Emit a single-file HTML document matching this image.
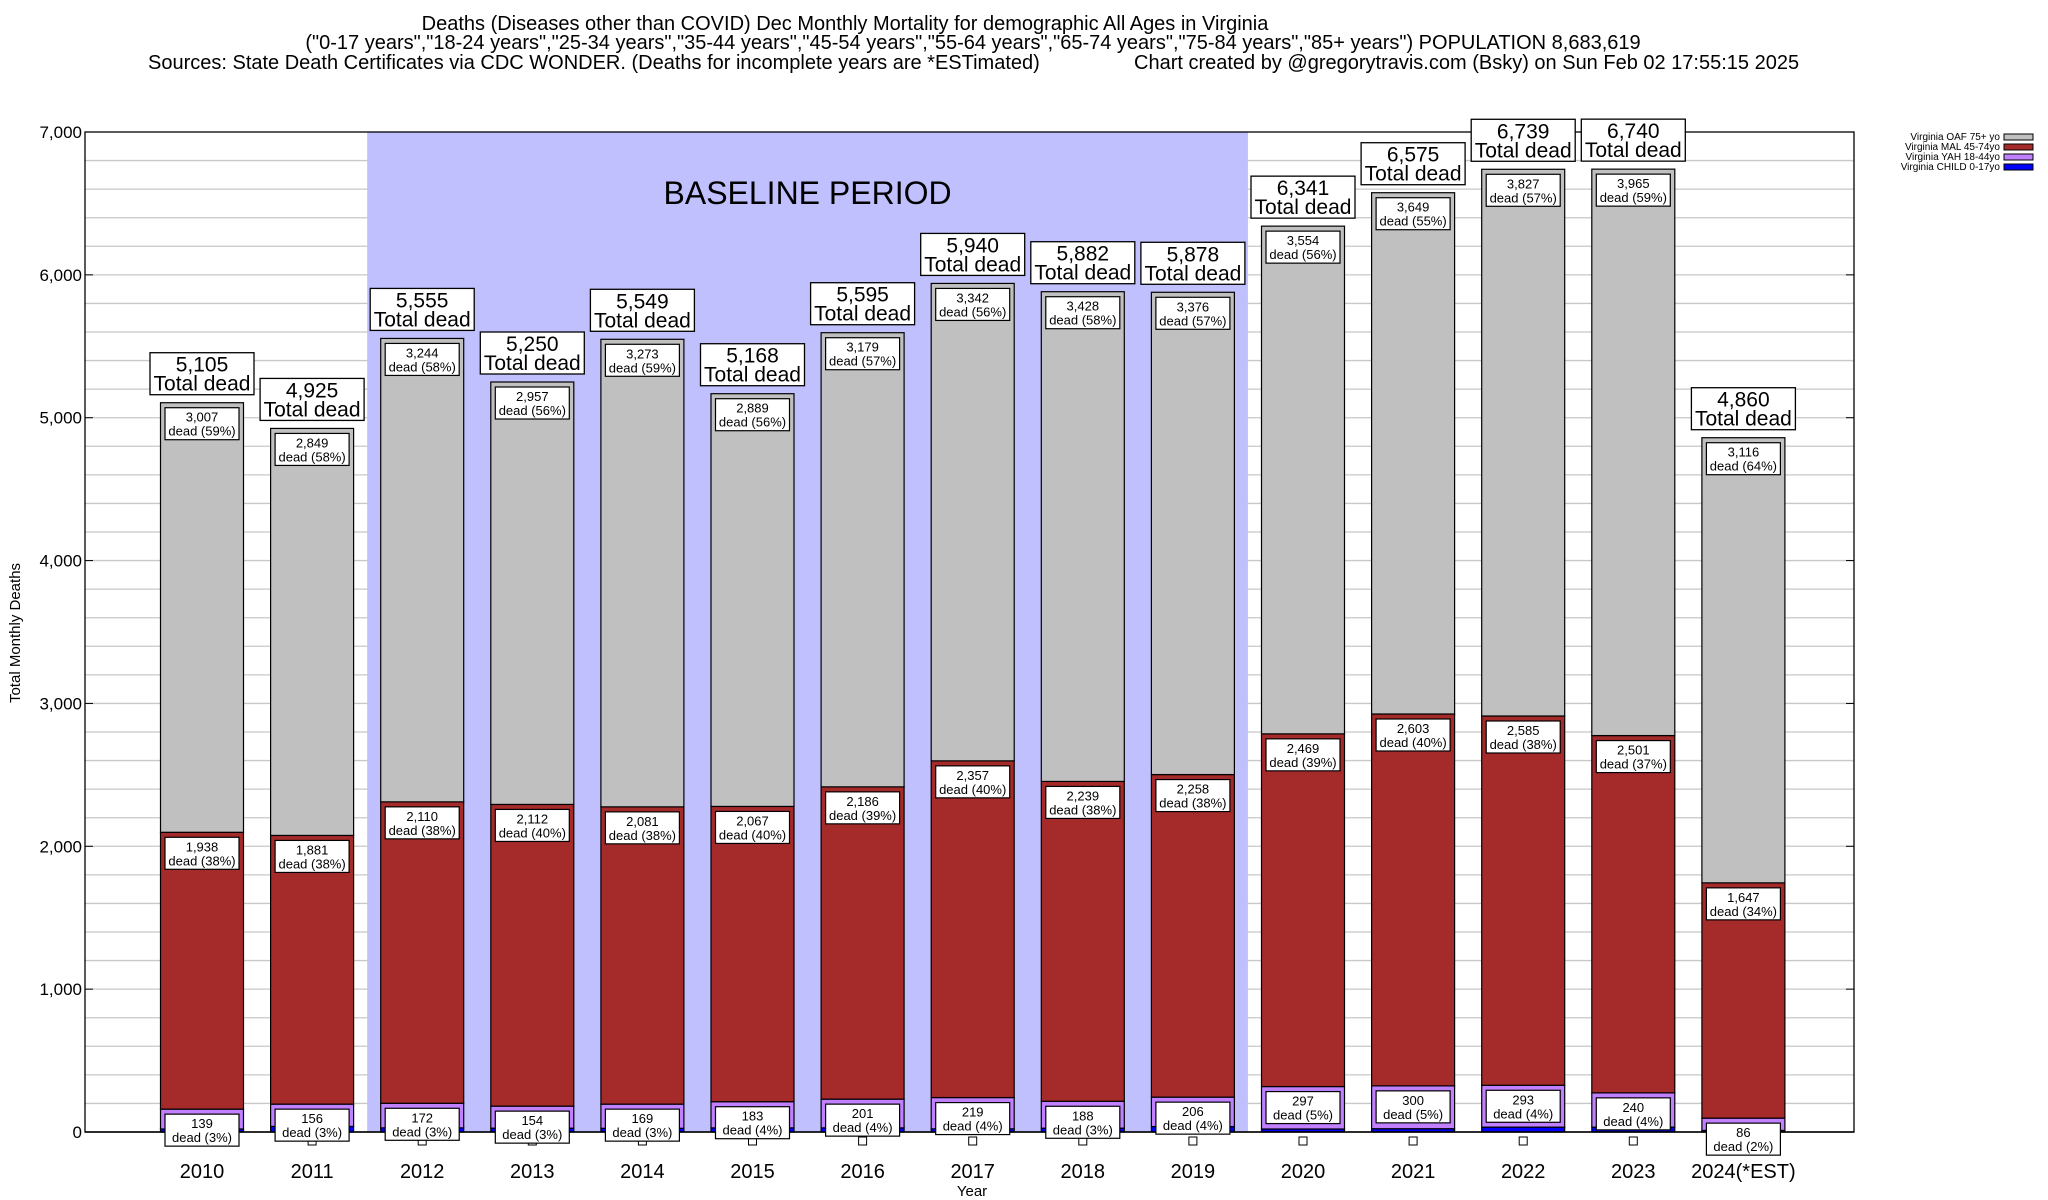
<!DOCTYPE html>
<html><head><meta charset="utf-8"><style>
body{margin:0;background:#fff;}
svg{display:block;font-family:"Liberation Sans",Arial,sans-serif;}
</style></head><body>
<svg id="chart" width="2048" height="1200" viewBox="0 0 2048 1200">
<g font-size="20" fill="#000">
<text x="845" y="30" text-anchor="middle">Deaths (Diseases other than COVID) Dec Monthly Mortality for demographic All Ages in Virginia</text>
<text x="973" y="49" text-anchor="middle">("0-17 years","18-24 years","25-34 years","35-44 years","45-54 years","55-64 years","65-74 years","75-84 years","85+ years") POPULATION 8,683,619</text>
<text x="148" y="69">Sources: State Death Certificates via CDC WONDER. (Deaths for incomplete years are *ESTimated)</text>
<text x="1134" y="69">Chart created by @gregorytravis.com (Bsky) on Sun Feb 02 17:55:15 2025</text>
</g>
<g id="grid"></g>
<g id="baseline"></g>
<g id="bars"></g>
<g id="axes"></g>
<g id="labels"></g>
<g font-size="10">
<text x="2000" y="140" text-anchor="end">Virginia OAF 75+ yo</text>
<rect x="2004" y="134" width="29" height="6" fill="#c0c0c0" stroke="#000"/>
<text x="2000" y="150" text-anchor="end">Virginia MAL 45-74yo</text>
<rect x="2004" y="144" width="29" height="6" fill="#a52a2a" stroke="#000"/>
<text x="2000" y="160" text-anchor="end">Virginia YAH 18-44yo</text>
<rect x="2004" y="154" width="29" height="6" fill="#c080ff" stroke="#000"/>
<text x="2000" y="170" text-anchor="end">Virginia CHILD 0-17yo</text>
<rect x="2004" y="164" width="29" height="6" fill="#0000ff" stroke="#000"/>
</g>
</svg>
<script>
const years = ["2010","2011","2012","2013","2014","2015","2016","2017","2018","2019","2020","2021","2022","2023","2024(*EST)"];
const child = [21,39,29,27,26,29,29,22,27,38,21,23,34,34,11];
const yah = [139,156,172,154,169,183,201,219,188,206,297,300,293,240,86];
const mal = [1938,1881,2110,2112,2081,2067,2186,2357,2239,2258,2469,2603,2585,2501,1647];
const oaf = [3007,2849,3244,2957,3273,2889,3179,3342,3428,3376,3554,3649,3827,3965,3116];
const totals = [5105,4925,5555,5250,5549,5168,5595,5940,5882,5878,6341,6575,6739,6740,4860];
const yTicks = [0,1000,2000,3000,4000,5000,6000,7000];
const baselineRange = ["2012","2019"];

const NS = "http://www.w3.org/2000/svg";
const L = 85, R = 1854, T = 132, B = 1132, YMAX = 7000;
const y = v => B - v / YMAX * (B - T);
const x = i => 202 + i * 110.1;
const BW = 83;
function mk(tag, attrs, parent, txt) {
  const e = document.createElementNS(NS, tag);
  for (const k in attrs) e.setAttribute(k, attrs[k]);
  if (txt !== undefined) e.textContent = txt;
  parent.appendChild(e);
  return e;
}
const fmt = v => v.toLocaleString("en-US");
const grid = document.getElementById("grid");
for (let v = 200; v < YMAX; v += 200) {
  const g = mk("line", {x1: L, x2: R, y1: y(v), y2: y(v), stroke: "#c8c8c8", "stroke-width": 1.3}, grid);
  
  
}
const bl = document.getElementById("baseline");
const i0 = years.indexOf(baselineRange[0]), i1 = years.indexOf(baselineRange[1]);
const bx0 = (x(i0) + x(i0 - 1)) / 2, bx1 = (x(i1) + x(i1 + 1)) / 2;
const br = mk("rect", {x: bx0, y: T, width: bx1 - bx0, height: B - T, fill: "#c0c0ff"}, bl);


const bt = mk("text", {x: (bx0 + bx1) / 2, y: 204, "text-anchor": "middle", "font-size": 32}, bl, "BASELINE PERIOD");



const bars = document.getElementById("bars");
const labels = document.getElementById("labels");
const series = [["child", child, "#0000ff"], ["yah", yah, "#c080ff"], ["mal", mal, "#a52a2a"], ["oaf", oaf, "#c0c0c0"]];
years.forEach((yr, i) => {
  let base = 0;
  const cx = x(i);
  series.forEach(([nm, arr, col]) => {
    const v = arr[i];
    const r = mk("rect", {x: cx - BW / 2, y: y(base + v), width: BW, height: y(base) - y(base + v), fill: col, stroke: "#000", "stroke-width": 1.2}, bars);
    
    
    const top = y(base + v);
    if (nm === "child") {
      const s = mk("rect", {x: cx - 4, y: B + 5, width: 8, height: 8, fill: "#fff", stroke: "#000"}, labels);
      
      
    } else {
      const g = mk("g", {}, labels);
      
      
      mk("rect", {x: cx - 37, y: top + 5, width: 74, height: 32, fill: "#fff", stroke: "#000", "stroke-width": 1.2}, g);
      const pct = Math.round(v / totals[i] * 100);
      mk("text", {x: cx, y: top + 19, "text-anchor": "middle", "font-size": 13}, g, fmt(v));
      mk("text", {x: cx, y: top + 33, "text-anchor": "middle", "font-size": 13}, g, "dead (" + pct + "%)");
    }
    base += v;
  });
  const tt = y(totals[i]);
  const g = mk("g", {}, labels);
  
  
  mk("rect", {x: cx - 52, y: tt - 50, width: 104, height: 42, fill: "#fff", stroke: "#000", "stroke-width": 1.3}, g);
  mk("text", {x: cx, y: tt - 31, "text-anchor": "middle", "font-size": 21}, g, fmt(totals[i]));
  mk("text", {x: cx, y: tt - 12, "text-anchor": "middle", "font-size": 21}, g, "Total dead");
  const xl = mk("text", {x: cx, y: 1178, "text-anchor": "middle", "font-size": 20}, labels, yr);
  
  
});

const ax = document.getElementById("axes");
const fr = mk("rect", {x: L, y: T, width: R - L, height: B - T, fill: "none", stroke: "#000", "stroke-width": 1.3}, ax);


const zl = mk("line", {x1: L, x2: R, y1: B, y2: B, stroke: "#000", "stroke-width": 1.5}, ax);


yTicks.forEach(v => {
  const t = mk("text", {x: 82, y: y(v) + 6, "text-anchor": "end", "font-size": 17}, ax, fmt(v));
  
  
  mk("line", {x1: L, x2: L + 8, y1: y(v), y2: y(v), stroke: "#000"}, ax);
  mk("line", {x1: R - 8, x2: R, y1: y(v), y2: y(v), stroke: "#000"}, ax);
});
const yt = mk("text", {x: 0, y: 0, transform: "translate(20,633) rotate(-90)", "text-anchor": "middle", "font-size": 15}, ax, "Total Monthly Deaths");


const xt = mk("text", {x: 972, y: 1196, "text-anchor": "middle", "font-size": 15}, ax, "Year");


</script>
</body></html>
